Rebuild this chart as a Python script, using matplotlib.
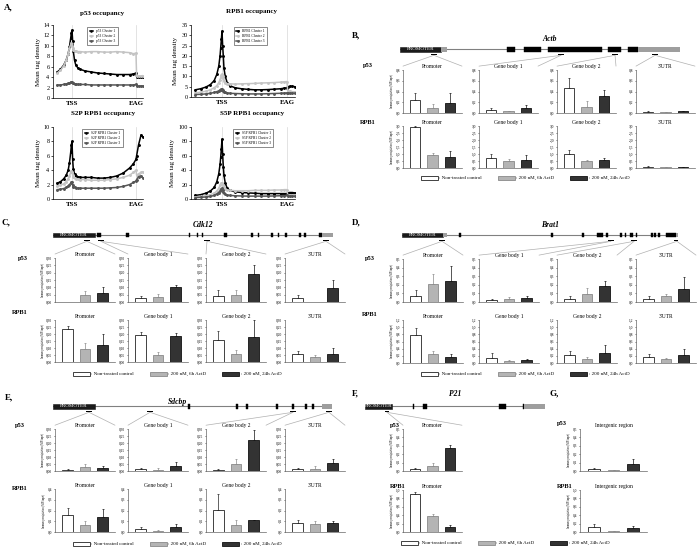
import numpy as np
import matplotlib.pyplot as plt
from matplotlib.patches import Rectangle, ConnectionPatch, Patch

plt.rcParams['font.family'] = ['Liberation Serif', 'DejaVu Serif']

FIG_W, FIG_H = 700, 549

# ---------------- panel A : metagene profiles (TSS = 0, EAG = 100) ----------------
x_short = [-23, -18, -13, -9, -6, -4, -2, -1, 0, 1, 2, 4, 6, 9, 13, 20, 30, 40, 50, 60,
           70, 80, 90, 96, 100, 101, 104, 108, 111]
p53_c1 = [5.0, 5.5, 6.3, 7.3, 8.5, 9.8, 11.5, 12.5, 13.0, 11.0, 9.0, 7.2, 6.3, 5.8, 5.5, 5.2,
          5.0, 4.8, 4.7, 4.6, 4.5, 4.5, 4.5, 4.6, 4.8, 4.1, 4.0, 4.0, 4.1]
p53_c2 = [4.8, 5.3, 6.2, 7.3, 8.5, 9.6, 10.3, 10.5, 10.0, 9.6, 9.3, 9.1, 9.0, 8.9, 8.9, 8.8,
          8.9, 8.9, 8.8, 8.8, 8.9, 8.8, 8.7, 8.5, 8.6, 4.3, 4.2, 4.2, 4.3]
p53_c3 = [2.5, 2.5, 2.6, 2.7, 2.8, 2.9, 3.0, 3.0, 3.0, 2.9, 2.8, 2.7, 2.7, 2.6, 2.6, 2.6,
          2.5, 2.5, 2.5, 2.5, 2.5, 2.5, 2.5, 2.5, 2.6, 2.3, 2.3, 2.3, 2.3]
s2p_c1 = [2.2, 2.4, 2.8, 3.3, 4.0, 5.0, 6.5, 7.5, 8.0, 5.5, 4.2, 3.5, 3.2, 3.1, 3.0, 3.0,
          3.0, 2.9, 2.9, 3.0, 3.2, 3.6, 4.3, 4.9, 5.5, 6.0, 7.5, 8.9, 8.6]
s2p_c2 = [1.8, 1.9, 2.1, 2.4, 2.8, 3.2, 3.7, 3.9, 3.8, 3.3, 3.0, 2.9, 2.8, 2.8, 2.7, 2.7,
          2.6, 2.6, 2.6, 2.7, 2.8, 3.0, 3.3, 3.7, 4.0, 3.3, 3.5, 3.7, 3.8]
s2p_c3 = [1.3, 1.35, 1.45, 1.6, 1.8, 2.0, 2.2, 2.3, 2.3, 1.9, 1.7, 1.6, 1.55, 1.5, 1.5, 1.5,
          1.5, 1.5, 1.5, 1.55, 1.6, 1.75, 2.0, 2.3, 2.5, 2.7, 3.1, 3.2, 2.9]

x_long = [-41, -33, -25, -18, -12, -8, -5, -3, -2, -1, 0, 1, 2, 3, 5, 8, 12, 20, 30, 40, 50,
          60, 70, 80, 90, 96, 100, 101, 104, 108, 112]
rpb1_c1 = [3.5, 4.0, 4.8, 6.0, 8.0, 11.0, 15.0, 20.0, 24.0, 28.0, 32.0, 25.0, 20.0, 14.0, 10.0,
           7.0, 5.5, 4.5, 4.0, 3.7, 3.5, 3.5, 3.6, 3.8, 4.0, 4.3, 4.5, 5.0, 5.2, 5.2, 5.0]
rpb1_c2 = [2.0, 2.3, 2.8, 3.5, 4.5, 5.5, 7.0, 8.5, 9.5, 10.5, 11.0, 10.0, 9.0, 8.0, 7.0, 6.5,
           6.4, 6.3, 6.4, 6.5, 6.6, 6.8, 6.9, 7.0, 7.2, 7.4, 7.5, 3.0, 2.7, 2.6, 2.5]
rpb1_c3 = [1.2, 1.3, 1.5, 1.8, 2.2, 2.6, 3.0, 3.4, 3.6, 3.8, 4.0, 3.5, 3.0, 2.6, 2.2, 2.0, 1.8,
           1.7, 1.6, 1.5, 1.5, 1.5, 1.6, 1.7, 1.8, 1.9, 2.0, 1.9, 1.8, 1.8, 1.8]
s5p_c1 = [5, 6, 8, 11, 16, 24, 35, 48, 58, 70, 83, 62, 45, 33, 22, 15, 12, 10, 9, 8.5, 8, 7.5,
          7.5, 7.5, 7.5, 7.5, 7.5, 8.5, 9, 9, 8.5]
s5p_c2 = [3, 3.5, 4.5, 6, 8, 11, 15, 19, 21, 22, 22, 20, 18, 16, 14, 12.5, 12, 11.5, 11.5, 11.5,
          12, 12, 12, 12.5, 12.5, 13, 13, 6, 5.5, 5.5, 5.5]
s5p_c3 = [2, 2.3, 2.8, 3.5, 5, 7, 9, 11, 13, 14, 15, 12, 10, 8, 6.5, 5.5, 5, 4.5, 4.2, 4, 4, 4,
          4, 4.2, 4.5, 4.8, 5, 4, 3.8, 3.8, 3.8]

cluster_colors = ['black', '#c4c4c4', '#555555']

# ---------------- bar panels ----------------
regions = ['Promoter', 'Gene body 1', 'Gene body 2', "3'UTR"]
treatments = [': Non-treated control', ': 200 nM, 6h ActD', ': 200 nM, 24h ActD']

actb_p53 = [[0.25, 0.09, 0.18], [0.06, 0.03, 0.10], [0.47, 0.12, 0.31], [0.02, 0.01, 0.035]]
actb_p53_err = [[0.12, 0.08, 0.19], [0.04, 0.014, 0.045], [0.18, 0.10, 0.12], [0.01, 0.005, 0.01]]
actb_rpb1 = [[2.93, 0.94, 0.78], [0.71, 0.52, 0.59], [1.02, 0.47, 0.54], [0.10, 0.08, 0.08]]
actb_rpb1_err = [[0.07, 0.12, 0.40], [0.28, 0.14, 0.35], [0.28, 0.12, 0.19], [0.02, 0.02, 0.01]]

cdk12_p53 = [[0.0, 0.048, 0.061], [0.025, 0.036, 0.10], [0.041, 0.048, 0.189], [0.027, 0.0, 0.093]]
cdk12_p53_err = [[0, 0.029, 0.043], [0.018, 0.019, 0.016], [0.039, 0.034, 0.061], [0.021, 0, 0.057]]
cdk12_rpb1 = [[0.234, 0.095, 0.118], [0.194, 0.052, 0.187], [0.158, 0.057, 0.177], [0.057, 0.038, 0.054]]
cdk12_rpb1_err = [[0.024, 0.044, 0.081], [0.023, 0.017, 0.019], [0.064, 0.03, 0.123], [0.023, 0.012, 0.045]]

brat1_p53 = [[0.07, 0.205, 0.244], [0.023, 0.031, 0.046], [0.038, 0.092, 0.19], [0.038, 0.073, 0.154]]
brat1_p53_err = [[0.07, 0.12, 0.176], [0.015, 0.027, 0.019], [0.035, 0.068, 0.056], [0.027, 0.023, 0.142]]
brat1_rpb1 = [[0.775, 0.24, 0.166], [0.138, 0.065, 0.083], [0.22, 0.11, 0.286], [0.166, 0.12, 0.23]]
brat1_rpb1_err = [[0.195, 0.10, 0.094], [0.13, 0.027, 0.027], [0.11, 0.056, 0.214], [0.074, 0.03, 0.17]]

sdcbp_p53 = [[0.007, 0.026, 0.024], [0.012, 0.01, 0.038], [0.007, 0.05, 0.218], [0.012, 0.014, 0.055]]
sdcbp_p53_err = [[0.007, 0.024, 0.01], [0.012, 0.009, 0.027], [0.005, 0.036, 0.072], [0.007, 0.022, 0.031]]
sdcbp_rpb1 = [[0.158, 0.062, 0.143], [0.031, 0.012, 0.05], [0.208, 0.068, 0.112], [0.084, 0.074, 0.081]]
sdcbp_rpb1_err = [[0.065, 0.037, 0.074], [0.019, 0.01, 0.024], [0.149, 0.047, 0.003], [0.031, 0.028, 0.024]]

p21_p53 = [[0.02, 0.056, 0.27]]
p21_p53_err = [[0.012, 0.035, 0.04]]
p21_rpb1 = [[0.896, 0.376, 0.112]]
p21_rpb1_err = [[0.064, 0.064, 0.048]]

inter_p53 = [[0.02, 0.008, 0.083]]
inter_p53_err = [[0.012, 0.008, 0.06]]
inter_rpb1 = [[0.128, 0.016, 0.096]]
inter_rpb1_err = [[0.072, 0.016, 0.048]]

# gene structures on a 0-100 scale along the drawn gene
actb_exons = [(38.2, 41.1), (44.3, 50.4), (52.9, 72.1), (74.3, 78.9), (81.4, 85.0)]
actb_utr = [(85.0, 100)]
actb_amps = [12.1, 57.5, 76.8, 91.1]
cdk12_exons = [(15.7, 17.1), (26, 27.1), (48.5, 49), (51.3, 51.8), (53.1, 53.6), (61, 62),
               (70.8, 71.3), (73.1, 73.6), (77.9, 78.4), (80.3, 80.8), (82.9, 83.4), (88, 88.5),
               (89.6, 90.4), (95.1, 96.1)]
cdk12_utr = [(96.1, 100)]
cdk12_amps = [12.1, 17.1, 55, 97.5]
brat1_exons = [(20.7, 21.5), (54, 54.7), (65.3, 66), (70.5, 72.8), (74, 74.6), (79, 79.6),
               (80.7, 81.3), (82.7, 83.7), (84.7, 85.3), (90.2, 90.8), (91.4, 92), (92.9, 93.5),
               (95.7, 99.3)]
brat1_utr = [(99.3, 100)]
brat1_amps = [14.5, 75.7, 84.1, 99.6]
sdcbp_exons = [(48.5, 49.1), (65.7, 66.3), (69.2, 69.8), (80, 80.6), (85.6, 86.4), (90.4, 91),
               (92.9, 93.5)]
sdcbp_utr = [(96.4, 100)]
sdcbp_amps = [12.9, 34.8, 86, 98.9]
p21_exons = [(26.4, 27), (32.2, 34.4), (74.4, 78.3), (87.5, 88.3)]
p21_utr = [(88.3, 100)]
p21_amps = [12.2]

bar_face = ['white', '#b4b4b4', '#333333']
bar_edge = ['#222222', '#8a8a8a', '#111111']
bar_pos = [0.75, 1.8, 2.85]

fig = plt.figure(figsize=(7, 5.49), dpi=100)


def px_axes(x0, y0, x1, y1):
    return fig.add_axes([x0 / FIG_W, 1 - y1 / FIG_H, (x1 - x0) / FIG_W, (y1 - y0) / FIG_H])


def ftext(x, y, s, **kw):
    fig.text(x / FIG_W, 1 - y / FIG_H, s, **kw)


def profile(box, title, title_xy, xs, curves, prefix, ymax, ystep, xlim, leg_x):
    ax = px_axes(*box)
    ax.axvline(0, color='#d8d8d8', lw=0.5, zorder=0)
    ax.axvline(100, color='#d8d8d8', lw=0.5, zorder=0)
    for i, (ys, col) in enumerate(zip(curves, cluster_colors)):
        ax.plot(xs, ys, '-', color=col, lw=1.1, marker='.', ms=2.2,
                label=f'{prefix} Cluster {i + 1}')
    ax.set_xlim(xlim)
    ax.set_ylim(0, ymax)
    ax.set_xticks([0, 100], ['TSS', 'EAG'], fontsize=5, fontweight='bold')
    ax.set_yticks(np.arange(0, ymax + ystep / 2, ystep))
    ax.tick_params(axis='y', labelsize=4.5, length=1.5, width=0.5, pad=1)
    ax.tick_params(axis='x', length=0, pad=2)
    ax.set_ylabel('Mean tag density', fontsize=5, labelpad=2)
    for s in ['top', 'right']:
        ax.spines[s].set_visible(False)
    for s in ['left', 'bottom']:
        ax.spines[s].set_linewidth(0.5)
    leg = ax.legend(loc='upper center', bbox_to_anchor=(leg_x, 1.0), fontsize=2.6,
                    markerscale=0.8, handlelength=1, frameon=True, fancybox=False,
                    borderpad=0.6, labelspacing=0.3)
    leg.get_frame().set_edgecolor('black')
    leg.get_frame().set_linewidth(0.4)
    ftext(title_xy[0], title_xy[1], title, fontsize=5, fontweight='bold', ha='center', va='center')


def gene(x0, x1, yc, name, name_xy, prom_end, prom_gray, exons, utrs, amps):
    ax = px_axes(x0, yc - 8, x1, yc + 8)
    ax.set_xlim(0, 100)
    ax.set_ylim(8, -8)
    ax.axis('off')
    ax.plot([0, 100], [0, 0], color='#808080', lw=0.8, zorder=1)
    ax.add_patch(Rectangle((0, -2.5), prom_end, 5, fc='#1a1a1a', ec='#1a1a1a', lw=0.4, zorder=2))
    if prom_gray > prom_end:
        ax.add_patch(Rectangle((prom_end, -2.5), prom_gray - prom_end, 5, fc='#a0a0a0',
                               ec='none', zorder=2))
    ax.text(prom_end / 2, 0.2, 'PROMOTER', color='white', fontsize=3.6, ha='center',
            va='center', zorder=3)
    for s, e in exons:
        ax.add_patch(Rectangle((s, -2.5), e - s, 5, fc='black', ec='black', lw=0.3, zorder=2))
    for s, e in utrs:
        ax.add_patch(Rectangle((s, -2.5), e - s, 5, fc='#9e9e9e', ec='none', zorder=2))
    for a in amps:
        ax.add_patch(Rectangle((a - 1.0, 4.6), 2.0, 1.6, fc='black', ec='none', zorder=2))
    ftext(name_xy[0], name_xy[1], name, fontsize=5.5, fontstyle='italic', fontweight='bold',
          ha='center', va='center')
    return ax


def bar_row(lefts, width, top, bottom, titles, vals, errs, ymax, ystep, ndec):
    axes = []
    ticks = np.arange(0, ymax + ystep / 2, ystep)
    for i, (x0, t) in enumerate(zip(lefts, titles)):
        ax = px_axes(x0, top, x0 + width, bottom)
        for j in range(3):
            ax.bar(bar_pos[j], vals[i][j], 0.62, color=bar_face[j], edgecolor=bar_edge[j],
                   lw=0.6, zorder=2)
            if errs[i][j] > 0:
                ax.errorbar(bar_pos[j], vals[i][j], yerr=[[0], [errs[i][j]]], fmt='none',
                            ecolor=bar_edge[j], elinewidth=0.5, capsize=0.8, capthick=0.5,
                            zorder=3)
        ax.set_xlim(0, 3.6)
        ax.set_ylim(0, ymax)
        ax.set_xticks([])
        ax.set_yticks(ticks, [f'{v:.{ndec}f}'.replace('.', ',') for v in ticks])
        ax.tick_params(axis='y', labelsize=2.6, length=1, width=0.4, pad=1)
        for s in ['top', 'right']:
            ax.spines[s].set_visible(False)
        for s in ['left', 'bottom']:
            ax.spines[s].set_linewidth(0.5)
            ax.spines[s].set_color('#666666')
        ax.set_title(t, fontsize=4, pad=1.5)
        if i == 0:
            ax.set_ylabel('Immunoprecipitation (%IP/input)', fontsize=1.8, labelpad=1)
        axes.append(ax)
    return axes


def connect(gene_ax, amps, axes):
    for a, ax in zip(amps, axes):
        for xb in (0, 1):
            con = ConnectionPatch(xyA=(a, 6.3), coordsA=gene_ax.transData,
                                  xyB=(xb, 1.09), coordsB=ax.transAxes,
                                  color='#b0b0b0', lw=0.5)
            fig.add_artist(con)


def bar_legend(xc, yc):
    handles = [Patch(facecolor=f, edgecolor=e, lw=0.6) for f, e in zip(bar_face, bar_edge)]
    fig.legend(handles, treatments, loc='center', bbox_to_anchor=(xc / FIG_W, 1 - yc / FIG_H),
               ncol=3, fontsize=3.6, frameon=False, handlelength=3.4, handleheight=0.9,
               columnspacing=3.2, handletextpad=0.3)


def row_label(x, y, s):
    ftext(x, y, s, fontsize=4.6, fontweight='bold', ha='left', va='center')


# ---- A ----
ftext(4, 7, 'A,', fontsize=6.5, fontweight='bold', va='center')
profile((53, 25, 143, 98), 'p53 occupancy', (102, 13), x_short, [p53_c1, p53_c2, p53_c3],
        'p53', 14, 2, (-29.7, 111), 0.55)
profile((191, 25, 295, 97), 'RPB1 occupancy', (252, 12), x_long, [rpb1_c1, rpb1_c2, rpb1_c3],
        'RPB1', 35, 5, (-47.7, 112.3), 0.57)
profile((53, 127, 143, 199), 'S2P RPB1 occupancy', (103, 114), x_short,
        [s2p_c1, s2p_c2, s2p_c3], 'S2P RPB1', 10, 2, (-29.7, 111), 0.55)
profile((191, 127, 295, 199), 'S5P RPB1 occupancy', (252, 114), x_long,
        [s5p_c1, s5p_c2, s5p_c3], 'S5P RPB1', 100, 20, (-47.7, 112.3), 0.6)

right_lefts = [403, 479, 557, 636]
left_lefts = [55, 128, 206, 285]

# ---- B ----
ftext(352, 35, 'B,', fontsize=6.5, fontweight='bold', va='center')
g = gene(400, 680, 49, 'Actb', (550, 39), 14.6, 16.8, actb_exons, actb_utr, actb_amps)
row_label(363, 66, 'p53')
row_label(360, 122, 'RPB1')
ax_top = bar_row(right_lefts, 59, 70, 113, regions, actb_p53, actb_p53_err, 0.8, 0.2, 1)
bar_row(right_lefts, 59, 126, 168, regions, actb_rpb1, actb_rpb1_err, 3.0, 0.5, 1)
connect(g, actb_amps, ax_top)
bar_legend(525, 178)

# ---- C ----
ftext(2, 222, 'C,', fontsize=6.5, fontweight='bold', va='center')
g = gene(53, 333, 235, 'Cdk12', (203, 225), 15, 15, cdk12_exons, cdk12_utr, cdk12_amps)
row_label(18, 258, 'p53')
row_label(12, 313, 'RPB1')
ax_top = bar_row(left_lefts, 60, 258, 302, regions, cdk12_p53, cdk12_p53_err, 0.30, 0.05, 2)
bar_row(left_lefts, 60, 320, 362, regions, cdk12_rpb1, cdk12_rpb1_err, 0.30, 0.05, 2)
connect(g, cdk12_amps, ax_top)
bar_legend(177, 374)

# ---- D ----
ftext(352, 222, 'D,', fontsize=6.5, fontweight='bold', va='center')
g = gene(402, 678, 235, 'Brat1', (550, 225), 14.9, 16.3, brat1_exons, brat1_utr, brat1_amps)
row_label(365, 258, 'p53')
row_label(362, 314, 'RPB1')
ax_top = bar_row(right_lefts, 60, 259, 302, regions, brat1_p53, brat1_p53_err, 0.5, 0.1, 1)
bar_row(right_lefts, 60, 320, 363, regions, brat1_rpb1, brat1_rpb1_err, 1.2, 0.2, 1)
connect(g, brat1_amps, ax_top)
bar_legend(525, 374)

# ---- E ----
ftext(5, 397, 'E,', fontsize=6.5, fontweight='bold', va='center')
g = gene(53, 332, 406, 'Sdcbp', (177, 402), 15, 15, sdcbp_exons, sdcbp_utr, sdcbp_amps)
row_label(15, 425, 'p53')
row_label(12, 489, 'RPB1')
ax_top = bar_row(left_lefts, 60, 429, 471, regions, sdcbp_p53, sdcbp_p53_err, 0.30, 0.05, 2)
bar_row(left_lefts, 60, 489, 532, regions, sdcbp_rpb1, sdcbp_rpb1_err, 0.4, 0.1, 1)
connect(g, sdcbp_amps, ax_top)
bar_legend(177, 544)

# ---- F ----
ftext(352, 393, 'F,', fontsize=6.5, fontweight='bold', va='center')
g = gene(365, 545, 406, 'P21', (455, 394), 15, 15, p21_exons, p21_utr, p21_amps)
row_label(390, 425, 'p53')
row_label(390, 486, 'RPB1')
ax_top = bar_row([403], 59, 429, 471, ['Promoter'], p21_p53, p21_p53_err, 0.5, 0.1, 1)
bar_row([403], 59, 490, 532, ['Promoter'], p21_rpb1, p21_rpb1_err, 1.0, 0.2, 1)
connect(g, p21_amps, ax_top)
bar_legend(505, 543)

# ---- G ----
ftext(550, 393, 'G,', fontsize=6.5, fontweight='bold', va='center')
row_label(557, 424, 'p53')
row_label(557, 486, 'RPB1')
bar_row([580], 67, 429, 471, ['Intergenic region'], inter_p53, inter_p53_err, 0.5, 0.1, 1)
bar_row([580], 67, 490, 532, ['Intergenic region'], inter_rpb1, inter_rpb1_err, 1.0, 0.2, 1)

fig.savefig('out.png', dpi=100)
